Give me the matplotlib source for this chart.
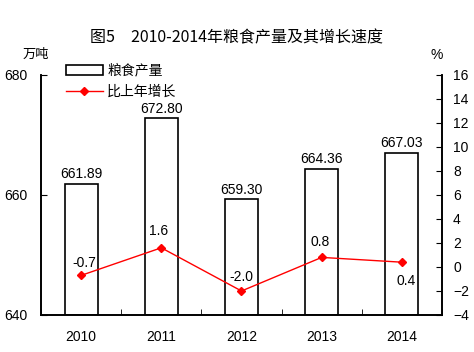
import matplotlib
matplotlib.use('Agg')
import matplotlib.pyplot as plt
import numpy as np

plt.rcParams['font.family'] = ['Liberation Sans', 'Noto Sans CJK SC', 'DejaVu Sans']

# Data
years = ['2010', '2011', '2012', '2013', '2014']
output = [661.89, 672.80, 659.30, 664.36, 667.03]
growth = [-0.7, 1.6, -2.0, 0.8, 0.4]
output_labels = ['661.89', '672.80', '659.30', '664.36', '667.03']
growth_labels = ['-0.7', '1.6', '-2.0', '0.8', '0.4']

fig = plt.figure(figsize=(4.74, 3.52), dpi=100)
ax = fig.add_axes([41 / 474, 1 - 315 / 352, 401 / 474, 240 / 352])
x = np.arange(len(years))

bars = ax.bar(x, [v - 640 for v in output], bottom=640, width=0.41,
              color='white', edgecolor='black', linewidth=1.2, label='粮食产量')
ax.set_ylim(640, 680)
ax.set_xlim(-0.5, 4.5)
ax.set_yticks([640, 660, 680])
ax.set_xticks(x)
ax.set_xticklabels(years)
ax.set_xticks(np.arange(-0.5, 5, 1), minor=True)
ax.tick_params(axis='x', which='major', length=0, labelsize=10, pad=11)
ax.tick_params(axis='x', which='minor', direction='in', length=4)
ax.tick_params(axis='y', direction='in', length=4, labelsize=10, pad=10)
ax.spines['top'].set_visible(False)
for s in ax.spines.values():
    s.set_linewidth(1.2)

for i, v in enumerate(output):
    ax.text(i, v + 0.4, output_labels[i], ha='center', va='bottom', fontsize=10)

ax2 = ax.twinx()
line, = ax2.plot(x, growth, color='red', marker='D', markersize=4, linewidth=1,
                 label='比上年增长')
ax2.set_ylim(-4, 16)
ax2.set_yticks(range(-4, 17, 2))
ax2.tick_params(axis='y', direction='in', length=4, labelsize=10, pad=8)
ax2.spines['top'].set_visible(False)
for s in ax2.spines.values():
    s.set_linewidth(1.2)

# label offsets (x in categories, y in %)
offsets = [(0.04, 1.0), (-0.04, 1.4), (0.0, 1.15), (-0.02, 1.3), (0.05, -1.6)]
for i, g in enumerate(growth):
    dx, dy = offsets[i]
    ax2.text(i + dx, g + dy, growth_labels[i], ha='center', va='center', fontsize=10)

ax.legend([bars, line], ['粮食产量', '比上年增长'], loc='upper left',
          bbox_to_anchor=(0.03, 1.10), frameon=False, fontsize=10,
          handlelength=2.7, handletextpad=0.3, labelspacing=0.55)

fig.text(0.5, 1 - 38 / 352, '图5　2010-2014年粮食产量及其增长速度', ha='center',
         va='center', fontsize=11.5, family=['Noto Sans CJK SC', 'DejaVu Sans'])
fig.text(36 / 474, 1 - 54 / 352, '万吨', ha='center', va='center', fontsize=9.5,
         family=['Noto Sans CJK SC'])
fig.text(437 / 474, 1 - 55 / 352, '%', ha='center', va='center', fontsize=10)

fig.savefig('out.png', dpi=100)
